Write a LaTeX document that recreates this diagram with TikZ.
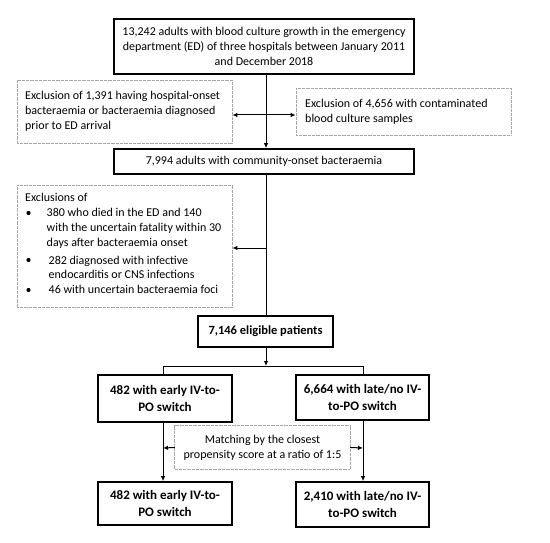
\documentclass[tikz,border=0pt]{standalone}
\usepackage{fontspec}
\setmainfont{Carlito}
\usetikzlibrary{arrows.meta}
\begin{document}
\begin{tikzpicture}[x=1pt,y=-1pt,
  txt/.style={font=\fontsize{12}{15}\selectfont},
  mainbox/.style={draw=black,line width=1.6pt,minimum width=#1,inner sep=4pt,align=center,txt},
  boldbox/.style={mainbox=#1,font=\fontsize{13}{17}\selectfont\bfseries},
  exbox/.style={draw=gray!70,dash pattern=on 0.8pt off 0.5pt,line width=0.8pt,inner sep=0pt},
  ltxt/.style={txt,anchor=base west,inner sep=0pt},
  arr/.style={line width=1pt,-{Latex[length=5pt,width=4.5pt]}},
  ln/.style={line width=1pt}]
\useasboundingbox (0,0) rectangle (550,543);
% main boxes
\node[mainbox=300pt,minimum height=55pt] (top) at (264,46.5) {13,242 adults with blood culture growth in the emergency\\department (ED) of three hospitals between January 2011\\and December 2018};
\node[mainbox=300pt,minimum height=25pt] (co) at (264,161.5) {7,994 adults with community-onset bacteraemia};
\node[boldbox=135pt,minimum height=31pt,font=\fontsize{12.5}{15}\selectfont\bfseries] (elig) at (265.5,331.5) {7,146 eligible patients};
\node[boldbox=134pt,minimum height=47pt] (ml) at (165,398.5) {482 with early IV-to-\\PO switch};
\node[boldbox=133pt,minimum height=45pt] (mr) at (362.5,397.5) {6,664 with late/no IV-\\to-PO switch};
\node[boldbox=134pt,minimum height=43pt] (bl) at (165,503.5) {482 with early IV-to-\\PO switch};
\node[boldbox=133pt,minimum height=45pt] (br) at (362.5,504.5) {2,410 with late/no IV-\\to-PO switch};
% exclusion boxes
\node[exbox,minimum width=215pt,minimum height=63pt] (exl) at (124.5,111.5) {};
\node[anchor=west,align=left,txt,inner sep=0pt] (exlt) at (25,111.5) {Exclusion of 1,391 having hospital-onset\\bacteraemia or bacteraemia diagnosed\\prior to ED arrival};
\node[exbox,minimum width=215pt,minimum height=47pt] (exr) at (403.5,111.5) {};
\node[anchor=west,align=left,txt,inner sep=0pt] (exrt) at (305,111.5) {Exclusion of 4,656 with contaminated\\blood culture samples};
\node[exbox,minimum width=215pt,minimum height=122pt] (ex2) at (124.5,246) {};
\node[ltxt] (e1) at (25,202) {Exclusions of};
\node[ltxt] (e2) at (46.5,217) {380 who died in the ED and 140};
\node[ltxt] (e3) at (46.5,232) {with the uncertain fatality within 30};
\node[ltxt] (e4) at (46.5,247) {days after bacteraemia onset};
\node[ltxt] (e5) at (48.5,264) {282 diagnosed with infective};
\node[ltxt] (e6) at (48.5,279) {endocarditis or CNS infections};
\node[ltxt] (e7) at (48.5,294) {46 with uncertain bacteraemia foci};
\fill (28.5,213) circle (2.1pt) (28.5,260) circle (2.1pt) (28.5,290) circle (2.1pt);
\node[txt,minimum width=175pt,minimum height=43pt,align=center,inner sep=0pt] (mt) at (262.5,447.5) {Matching by the closest\\propensity score at a ratio of 1:5};
\draw[exbox] (mt.south west) rectangle (mt.north east);
% coordinates
\coordinate (s1) at (266,115);
\coordinate (s2) at (266,248);
\coordinate (hl) at (163,366);
\coordinate (hr) at (363,366);
\coordinate (hc) at (266,366);
\coordinate (ml1) at (163,448);
\coordinate (mr1) at (363,448);
% connectors
\draw[arr] (top.south -| s1) -- (co.north -| s1);
\draw[line width=1pt,{Latex[length=5pt,width=4.5pt]}-{Latex[length=5pt,width=4.5pt]}] (exl.east |- s1) -- (exr.west |- s1);
\draw[ln] (co.south -| s2) -- (elig.north -| s2);
\draw[arr] (s2) -- (ex2.east |- s2);
\draw[arr] (elig.south -| hc) -- (hc);
\draw[ln] (ml.north -| hl) -- (hl) -- (hr) -- (mr.north -| hr);
\draw[arr] (ml.south -| ml1) -- (bl.north -| ml1);
\draw[arr] (mr.south -| mr1) -- (br.north -| mr1);
\draw[arr] (mt.west) -- (ml1);
\draw[arr] (mt.east) -- (mr1);
\end{tikzpicture}
\end{document}
